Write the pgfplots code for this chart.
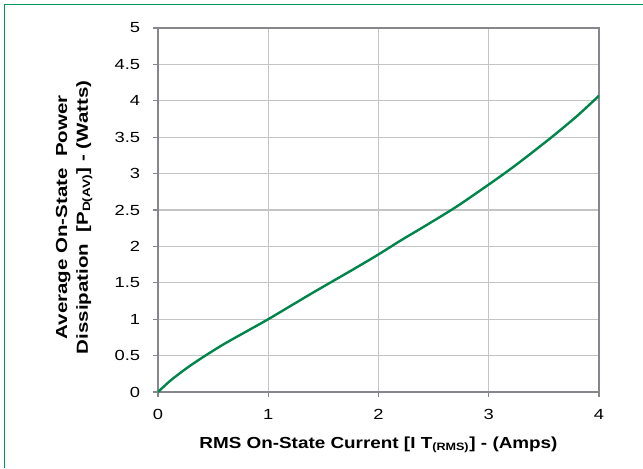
\documentclass[border=0pt]{standalone}
\usepackage{fontspec}
\setmainfont{Liberation Sans}
\usepackage{pgfplots}
\pgfplotsset{compat=1.18}
\definecolor{curvegreen}{RGB}{0,133,74}
\definecolor{framegreen}{RGB}{0,150,90}
\definecolor{axisgray}{RGB}{134,134,140}
\definecolor{gridgray}{RGB}{196,196,196}

\begin{document}
\begin{tikzpicture}[x=1pt,y=1pt]
\useasboundingbox (-118.5,-57) rectangle (363.75,294);
% frame of the figure (top and left edges only)
\draw[framegreen, line width=1pt] (-115,-57) -- (-115,290.5) -- (363.75,290.5);
\begin{axis}[
    at={(0,0)}, anchor=south west,
    scale only axis,
    width=330.75pt, height=273pt,
    xmin=0, xmax=4,
    ymin=0, ymax=5,
    xtick={0,1,2,3,4},
    ytick={0,0.5,1,1.5,2,2.5,3,3.5,4,4.5,5},
    grid=major,
    major grid style={gridgray, line width=1pt},
    axis line style={axisgray, line width=1.2pt},
    tick style={axisgray, line width=0.9pt},
    tick align=outside,
    major tick length=4pt,
    tick pos=left,
    /pgf/number format/assume math mode=true,
    ticklabel style={font=\fontsize{11}{13}\selectfont, xscale=1.25},
    yticklabel style={xshift=-4pt},
    xticklabel style={yshift=-5.5pt},
    xlabel={RMS On-State Current [I T\textsubscript{(RMS)}] - (Amps)},
    xlabel style={at={(axis description cs:0.5,-0.145)}, anchor=center,
                  font=\bfseries\fontsize{12}{14}\selectfont, xscale=1.18},
    ylabel={Average On-State~ Power\\Dissipation~ [P\textsubscript{D(AV)}] - (Watts)},
    ylabel style={at={(axis description cs:-0.19,0.48)}, anchor=center,
                  align=center, font=\bfseries\fontsize{12}{15.5}\selectfont,
                  xscale=1.28},
]
\addplot[curvegreen, line width=1.8pt, smooth] coordinates {
(0,0) (0.1,0.14) (0.2,0.26) (0.3,0.37) (0.44,0.51) (0.6,0.66) (0.8,0.83)
(1,1.0) (1.2,1.18) (1.4,1.36) (1.56,1.5) (1.8,1.71) (2,1.89) (2.2,2.08)
(2.4,2.26) (2.66,2.5) (2.8,2.64) (3,2.85) (3.14,3.0) (3.3,3.18) (3.57,3.5)
(3.8,3.79) (4,4.07)
};
\end{axis}
\end{tikzpicture}
\end{document}
